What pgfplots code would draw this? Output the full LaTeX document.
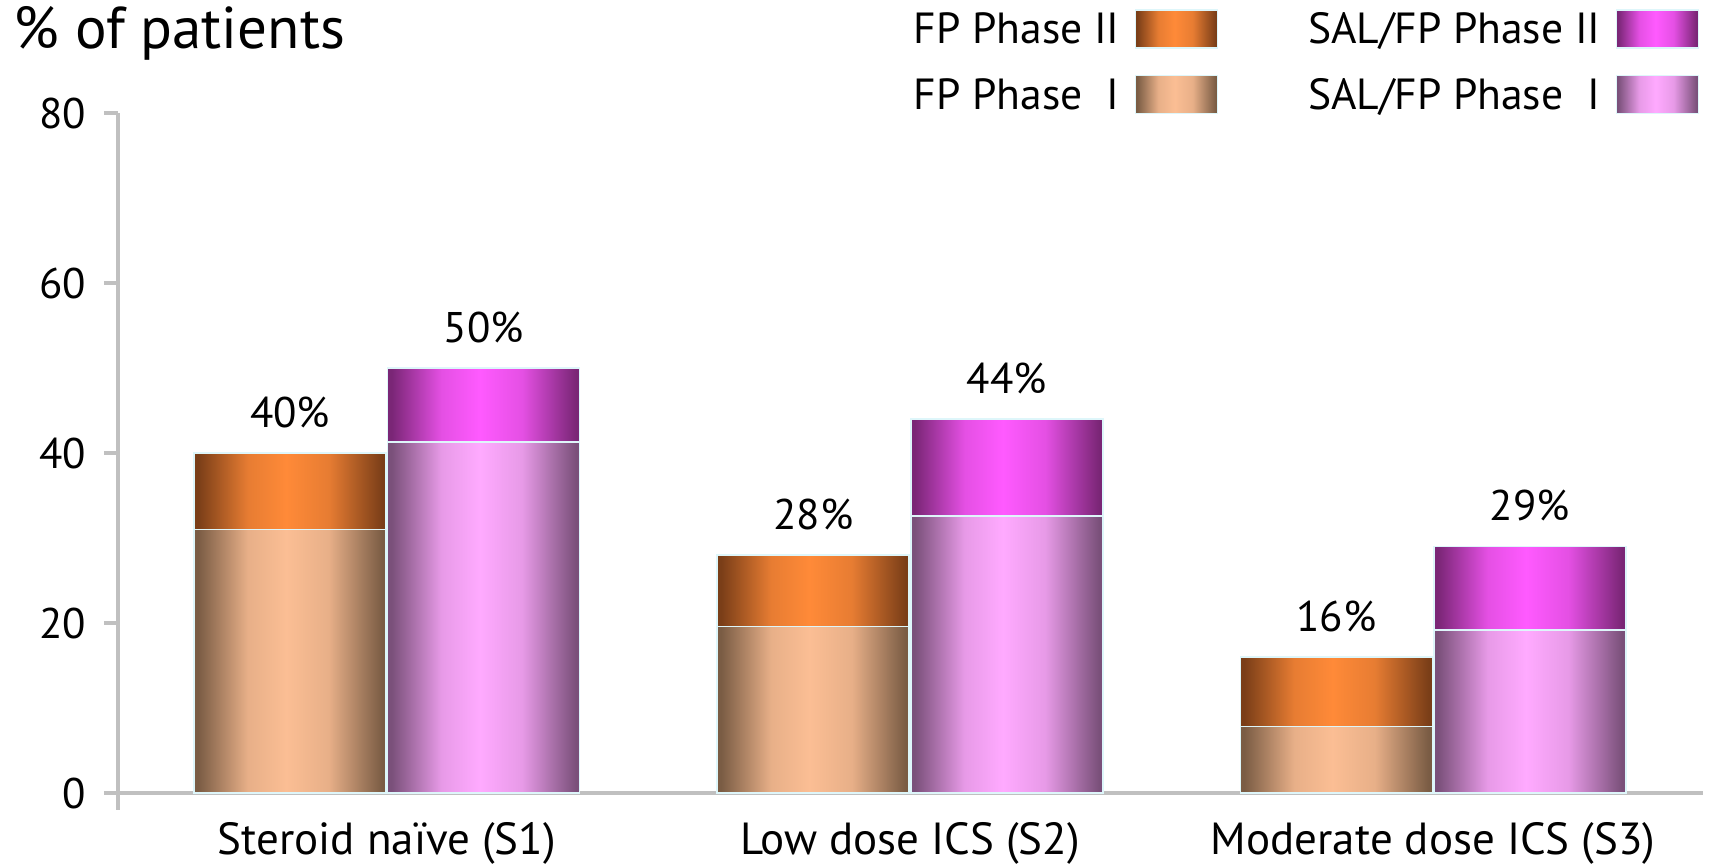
\documentclass[border=0pt]{standalone}
\usepackage{fontspec}
\setmainfont{PT Sans}
\usepackage{pgfplots}
\pgfplotsset{compat=1.18}
\usepackage{pgfplotstable}

% line colours
\definecolor{axisgray}{RGB}{192,192,192}
\definecolor{barrim}{RGB}{222,246,250}

% bar colours: dark edge / bright centre
\definecolor{fpIIdark}{RGB}{122,62,24}
\definecolor{fpIIlight}{RGB}{255,138,56}
\definecolor{fpIdark}{RGB}{122,92,68}
\definecolor{fpIlight}{RGB}{251,190,148}
\definecolor{salIIdark}{RGB}{122,38,118}
\definecolor{salIIlight}{RGB}{255,90,255}
\definecolor{salIdark}{RGB}{122,80,122}
\definecolor{salIlight}{RGB}{255,170,255}
\colorlet{fpIImid}{fpIIlight!82!fpIIdark}
\colorlet{fpImid}{fpIlight!85!fpIdark}
\colorlet{salIImid}{salIIlight!80!salIIdark}
\colorlet{salImid}{salIlight!82!salIdark}

% cylinder-like horizontal shadings (path spans 25bp..75bp)
\pgfdeclarehorizontalshading{fpII}{100bp}{color(0bp)=(fpIIdark); color(26bp)=(fpIIdark); color(39bp)=(fpIImid); color(49bp)=(fpIIlight); color(60bp)=(fpIImid); color(74bp)=(fpIIdark); color(100bp)=(fpIIdark)}
\pgfdeclarehorizontalshading{fpI}{100bp}{color(0bp)=(fpIdark); color(26bp)=(fpIdark); color(39bp)=(fpImid); color(49bp)=(fpIlight); color(60bp)=(fpImid); color(74bp)=(fpIdark); color(100bp)=(fpIdark)}
\pgfdeclarehorizontalshading{salII}{100bp}{color(0bp)=(salIIdark); color(26bp)=(salIIdark); color(39bp)=(salIImid); color(49bp)=(salIIlight); color(60bp)=(salIImid); color(74bp)=(salIIdark); color(100bp)=(salIIdark)}
\pgfdeclarehorizontalshading{salI}{100bp}{color(0bp)=(salIdark); color(26bp)=(salIdark); color(39bp)=(salImid); color(49bp)=(salIlight); color(60bp)=(salImid); color(74bp)=(salIdark); color(100bp)=(salIdark)}

% total = Phase I + Phase II (top of each stack); phaseI = lower segment
\pgfplotstableread{
x       total phaseI
-0.185  40    31.0
0.815   28    19.6
1.815   16    7.8
}\fpdata
\pgfplotstableread{
x       total phaseI
0.185   50    41.3
1.185   44    32.6
2.185   29    19.2
}\saldata

\pgfplotsset{
  shadedbar/.style={
    /tikz/ybar, /pgf/bar width=0.367, /pgf/bar shift=0pt,
    draw=barrim, line width=0.15mm, shade, shading=#1,
  },
  % keep only row #1 of a table, so that every bar is its own shaded path
  onlyrow/.style={x filter/.code={\ifnum\coordindex=#1\relax\else\def\pgfmathresult{}\fi}},
  valuelabel/.style={nodes near coords={\pgfmathprintnumber{\pgfplotspointmeta}\%}, point meta=y},
}

\begin{document}
\begin{tikzpicture}
\useasboundingbox (-11.8mm,-7.2mm) rectangle (159.2mm,79.3mm);
\begin{axis}[
  scale only axis, width=158.5mm, height=68mm,
  xmin=-0.514, xmax=2.516, ymin=0, ymax=80,
  axis lines*=left,
  axis line style={axisgray, line width=0.35mm},
  ytick={0,20,40,60,80},
  xtick={0,1,2},
  xticklabels={Steroid naïve (S1), Low dose ICS (S2), Moderate dose ICS (S3)},
  tick align=outside, major tick length=1.4mm,
  y tick style={axisgray, line width=0.35mm},
  x tick style={draw=none},
  /pgf/number format/assume math mode=true,
  yticklabel style={font=\fontsize{12.2}{14}\selectfont, inner sep=0pt, anchor=east, xshift=-1.7mm},
  xticklabel style={font=\fontsize{12.8}{15}\selectfont, inner sep=0pt, anchor=north, yshift=-1.5mm},
  clip=false,
  legend columns=2,
  legend plot pos=right,
  legend cell align=right,
  legend image code/.code={\path[#1, draw=barrim, line width=0.15mm] (0mm,-1.7mm) rectangle (8.2mm,2.1mm);},
  legend style={
    at={(rel axis cs:1,1)}, anchor=north east, xshift=-0.4mm, yshift=10.4mm,
    draw=none, fill=none, inner sep=0pt, outer sep=0pt,
    font=\fontsize{12.4}{14}\selectfont,
    nodes={inner sep=0pt},
    column sep=1.5mm, row sep=2.6mm,
    /tikz/every even column/.append style={column sep=9mm},
  },
  nodes near coords style={font=\fontsize{12.2}{14}\selectfont, inner sep=0pt, anchor=base, yshift=2.6mm},
]
\pgfplotsinvokeforeach{0,1,2}{
  \addplot[shadedbar=fpII, onlyrow=#1, valuelabel, forget plot] table[x=x, y=total] {\fpdata};
  \addplot[shadedbar=fpI, onlyrow=#1, forget plot] table[x=x, y=phaseI] {\fpdata};
  \addplot[shadedbar=salII, onlyrow=#1, valuelabel, forget plot] table[x=x, y=total] {\saldata};
  \addplot[shadedbar=salI, onlyrow=#1, forget plot] table[x=x, y=phaseI] {\saldata};
}
\addlegendimage{shadedbar=fpII}
\addlegendentry{FP Phase II}
\addlegendimage{shadedbar=salII}
\addlegendentry{SAL/FP Phase II}
\addlegendimage{shadedbar=fpI}
\addlegendentry{FP Phase \phantom{I}I}
\addlegendimage{shadedbar=salI}
\addlegendentry{SAL/FP Phase \phantom{I}I}

% y axis runs a little below the baseline
\draw[axisgray, line width=0.35mm] (rel axis cs:0,0) -- ++(0pt,-1.7mm);
\node[anchor=base west, inner sep=0pt, font=\fontsize{16.8}{19}\selectfont, xshift=-10.5mm, yshift=6.5mm]
  at (rel axis cs:0,1) {\% of patients};
\end{axis}
\end{tikzpicture}
\end{document}
